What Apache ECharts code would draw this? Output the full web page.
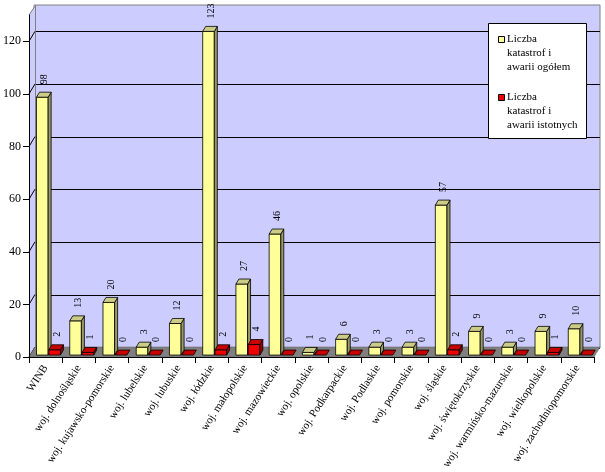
<!DOCTYPE html>
<html><head><meta charset="utf-8">
<script src="https://cdn.jsdelivr.net/npm/echarts@6/dist/echarts.min.js"></script>
<style>html,body{margin:0;padding:0;background:#fff}#c{width:605px;height:472px}</style>
</head><body><div id="c"></div>
<script>
const categories = ['WINB','woj. dolnośląskie','woj. kujawsko-pomorskie','woj. lubelskie','woj. lubuskie','woj. łódzkie','woj. małopolskie','woj. mazowieckie','woj. opolskie','woj. Podkarpackie','woj. Podlaskie','woj. pomorskie','woj. śląskie','woj. świętokrzyskie','woj. warmińsko-mazurskie','woj. wielkopolskie','woj. zachodniopomorskie'];
const totalValues = [98,13,20,3,12,123,27,46,1,6,3,3,57,9,3,9,10];
const significantValues = [2,1,0,0,0,2,4,0,0,0,0,0,2,0,0,1,0];
const seriesNames = ['Liczba\nkatastrof i\nawarii ogółem','Liczba\nkatastrof i\nawarii istotnych'];
const yTicks = [0,20,40,60,80,100,120];
const yMax = 130;

const FONT = '"Liberation Serif","Times New Roman",serif';
const DX = 6, DY = -10;           // depth of the 3D box
const D0 = 0.2, D1 = 0.7;         // bar depth range (fraction of box depth)
const BAR_START = [0.19, 0.56], BAR_W = 0.35;
const COLORS = [
  {front:'#FFFF99', top:'#CCCC88', side:'#999966'},
  {front:'#F00000', top:'#C80000', side:'#960000'}
];

function makeRender(k) {
  return function (params, api) {
    const i = api.value(0), v = api.value(1);
    const c0 = api.coord([i, 0]), c1 = api.coord([i, v]);
    const bw = api.size([1, 0])[0];
    const cs = c0[0] - bw / 2;
    const fx = DX * D0, fy = DY * D0;
    const bx = DX * (D1 - D0), by = DY * (D1 - D0);
    const xl = cs + bw * BAR_START[k] + fx, xr = xl + bw * BAR_W;
    const yb = c0[1] + fy, yt = c1[1] + fy;
    const col = COLORS[k];
    const st = {stroke:'#000', lineWidth:0.8};
    const children = [];
    if (yb - yt > 0.2) {
      children.push({type:'polygon', shape:{points:[[xl,yt],[xr,yt],[xr,yb],[xl,yb]]}, style:Object.assign({fill:col.front}, st)});
      children.push({type:'polygon', shape:{points:[[xr,yt],[xr+bx,yt+by],[xr+bx,yb+by],[xr,yb]]}, style:Object.assign({fill:col.side}, st)});
    }
    children.push({type:'polygon', shape:{points:[[xl,yt],[xr,yt],[xr+bx,yt+by],[xl+bx,yt+by]]}, style:Object.assign({fill:col.top}, st)});
    children.push({type:'text', x:(xl+xr)/2 + bx/2 + 1, y: yt + by - 8, rotation: Math.PI/2,
      style:{text:String(v), font:'10px ' + FONT, fill:'#000', align:'left', verticalAlign:'middle', textAlign:'left', textVerticalAlign:'middle'}});
    return {type:'group', children};
  };
}

const chart = echarts.init(document.getElementById('c'), null, {renderer:'canvas'});
const front = {left:28, top:15, right:11, bottom:114};
const back = {left:front.left+DX, top:front.top+DY, right:front.right-DX, bottom:front.bottom-DY};

chart.setOption({
  animation:false,
  backgroundColor:'#fff',
  grid:[
    Object.assign({show:false}, front),
    Object.assign({show:true, backgroundColor:'#CCCCFF', borderColor:'#808080', borderWidth:1}, back)
  ],
  xAxis:[
    {type:'category', gridIndex:0, data:categories, boundaryGap:true, z:10,
     axisLine:{show:true, lineStyle:{color:'#000', width:1}},
     axisTick:{show:true, length:6, lineStyle:{color:'#000'}},
     axisLabel:{interval:0, rotate:57, fontSize:11, fontFamily:FONT, color:'#000', margin:9},
     splitLine:{show:false}},
    {type:'category', gridIndex:1, data:categories, show:false}
  ],
  yAxis:[
    {type:'value', gridIndex:0, min:0, max:yMax, interval:20, z:10,
     axisLine:{show:true, lineStyle:{color:'#000', width:1}},
     axisTick:{show:true, length:6, customValues:yTicks, lineStyle:{color:'#000'}},
     axisLabel:{customValues:yTicks, fontSize:12, fontFamily:FONT, color:'#000', margin:8,
       formatter:(val)=> yTicks.indexOf(val) >= 0 ? String(val) : ''},
     splitLine:{show:false}},
    {type:'value', gridIndex:1, min:0, max:yMax, interval:20,
     axisLine:{show:false}, axisTick:{show:false, customValues:yTicks}, axisLabel:{show:false, customValues:yTicks},
     splitLine:{show:true, lineStyle:{color:['#000','#000','#000','#000','#000','#000','#000','#808080'], width:1}}}
  ],
  series:[
    {type:'custom', name:seriesNames[0], xAxisIndex:0, yAxisIndex:0, z:5,
     data: totalValues.map((v,i)=>[i,v]), encode:{x:0,y:1}, renderItem:makeRender(0), itemStyle:{color:COLORS[0].front}},
    {type:'custom', name:seriesNames[1], xAxisIndex:0, yAxisIndex:0, z:6,
     data: significantValues.map((v,i)=>[i,v]), encode:{x:0,y:1}, renderItem:makeRender(1), itemStyle:{color:COLORS[1].front}}
  ]
});

// walls / floor / slanted ticks computed from the front axes
const bandW = chart.convertToPixel({xAxisIndex:0}, 1) - chart.convertToPixel({xAxisIndex:0}, 0);
const x0 = chart.convertToPixel({xAxisIndex:0}, 0) - bandW / 2;
const x1 = x0 + bandW * categories.length;
const y1 = chart.convertToPixel({yAxisIndex:0}, 0);
const y0 = chart.convertToPixel({yAxisIndex:0}, yMax);
const g = [];
g.push({type:'polygon', z:1, shape:{points:[[x0,y0],[x0+DX,y0+DY],[x0+DX,y1+DY],[x0,y1]]}, style:{fill:'#CCCCFF'}});
g.push({type:'polyline', z:1, shape:{points:[[x0,y0],[x0+DX+0.5,y0+DY+0.5],[x0+DX+0.5,y1+DY]]}, style:{stroke:'#808080', lineWidth:1, fill:null}});
yTicks.forEach(t => {
  const y = chart.convertToPixel({yAxisIndex:0}, t);
  g.push({type:'line', z:1, shape:{x1:x0, y1:y, x2:x0+DX, y2:y+DY}, style:{stroke:'#000', lineWidth:1}});
});
g.push({type:'polygon', z:1, shape:{points:[[x0,y1],[x1,y1],[x1+DX,y1+DY],[x0+DX,y1+DY]]}, style:{fill:'#808080', stroke:'#666', lineWidth:0.6}});
// legend
const lx = 488, ly = 23;
g.push({type:'rect', z:20, shape:{x:lx+0.5, y:ly+0.5, width:98, height:115}, style:{fill:'#fff', stroke:'#000', lineWidth:1}});
[0,1].forEach(k => {
  const top = ly + 13 + k * 58;
  g.push({type:'rect', z:21, shape:{x:lx+10.5, y:top+0.5, width:6, height:6}, style:{fill:COLORS[k].front, stroke:'#000', lineWidth:1}});
  g.push({type:'text', z:21, x:lx+19, y:top-4, style:{text:seriesNames[k], font:'11px ' + FONT, lineHeight:14, fill:'#000', verticalAlign:'top'}});
});
chart.setOption({graphic:{elements:g}});
</script></body></html>
